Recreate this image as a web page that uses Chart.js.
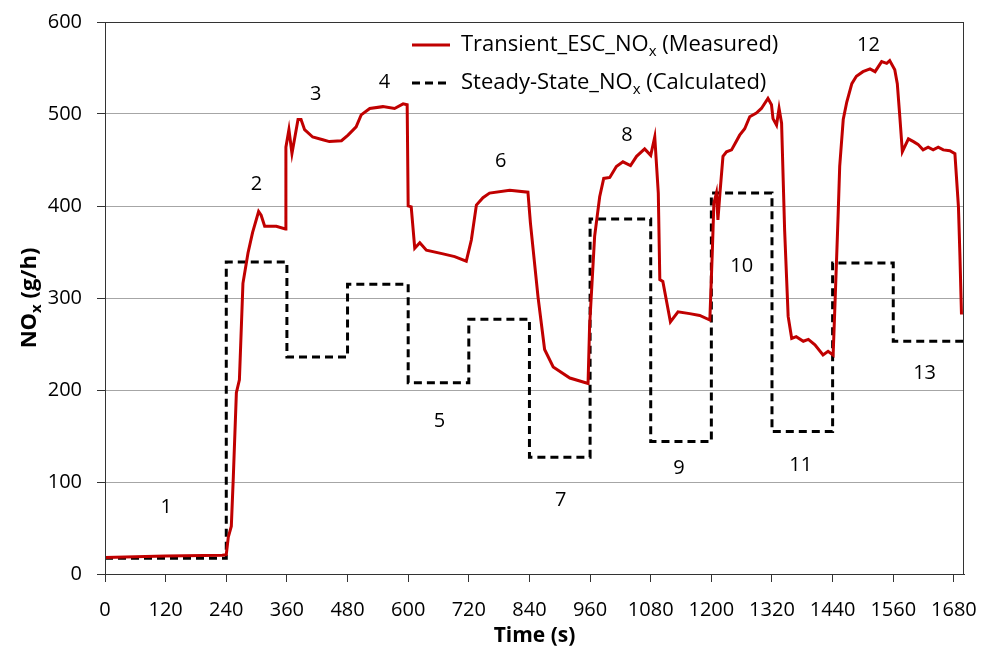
<!DOCTYPE html>
<html>
<head>
<meta charset="utf-8">
<script src="https://cdn.jsdelivr.net/npm/chart.js@4.4.0/dist/chart.umd.min.js"></script>
<style>
    html, body { margin: 0; padding: 0; background: #fff; }
</style>
</head>
<body>
<canvas id="noxChart" width="984" height="657"></canvas>
<script>
// time axis ticks (s)
const xTicks = [0, 120, 240, 360, 480, 600, 720, 840, 960, 1080, 1200, 1320, 1440, 1560, 1680];

// measured transient NOx (g/h)
const measTime = [0, 120, 232, 240, 244, 250, 254, 260, 266, 273, 283, 292, 304, 309, 316, 339, 357,
    358, 364, 370, 382, 388, 395, 411, 431, 444, 468, 481, 497, 507, 524, 550, 573, 590, 598,
    600, 606, 613, 623, 636, 669, 692, 715, 725, 735, 748, 761, 801, 837, 842, 857, 870, 887, 920, 956,
    959, 969, 979, 987, 999, 1012, 1025, 1040, 1052, 1068, 1080, 1088, 1095, 1098, 1104, 1119, 1134, 1157, 1177, 1197,
    1202, 1205, 1210, 1213, 1217, 1223, 1230, 1240, 1247, 1256, 1266, 1276, 1289, 1299, 1312, 1319, 1322, 1329, 1334, 1339,
    1345, 1352, 1359, 1368, 1382, 1392, 1405, 1421, 1431, 1441,
    1444, 1448, 1451, 1454, 1461, 1468, 1478, 1487, 1500, 1514, 1524, 1537, 1547, 1553, 1563, 1568, 1573, 1578,
    1590, 1600, 1609, 1619, 1629, 1639, 1649, 1659, 1672, 1682, 1689, 1692, 1695];
const measNOx = [18, 19.5, 20.5, 21, 40, 52, 106, 197, 211, 316, 349, 371, 394, 390, 378, 378, 375,
    464, 483, 457, 494, 494, 483, 475, 472, 470, 471, 477, 486, 499, 506, 508, 506, 511, 510,
    400, 399, 354, 360, 352, 348, 345, 340, 363, 401, 409, 414, 417, 415, 381, 301, 244, 225, 213, 207,
    269, 367, 410, 430, 431, 443, 448, 444, 454, 462, 455, 475, 414, 320, 318, 274, 285, 283, 281, 276,
    352, 403, 414, 385, 414, 454, 459, 461, 468, 477, 484, 497, 501, 506, 517, 510, 495, 488, 506, 490,
    374, 280, 256, 258, 253, 255, 249, 238, 242, 238,
    283, 345, 392, 443, 494, 513, 533, 541, 546, 549, 546, 557, 555, 558, 548, 533, 497, 459,
    473, 470, 467, 461, 464, 461, 464, 461, 460, 457, 399, 345, 282];

// calculated steady-state NOx (g/h), one value per mode start
const stepTime = [0, 240, 360, 480, 600, 720, 840, 960, 1080, 1200, 1320, 1440, 1560, 1700];
const stepNOx = [17, 339, 236, 315, 208, 277, 127, 386, 144, 414, 155, 338, 253, 253];

// mode numbers and where they sit (t, NOx)
const modeLabels = ["1", "2", "3", "4", "5", "6", "7", "8", "9", "10", "11", "12", "13"];
const modeAtTime = [121, 300, 417, 553, 662, 783, 902, 1033, 1136, 1260, 1377, 1511, 1622];
const modeAtNOx = [72, 424, 521, 535, 166, 449, 80, 477, 115, 334, 118, 575, 218];

const FONT = '"Open Sans", "Liberation Sans", sans-serif';

// draws text runs where some runs are subscripts
function drawRuns(ctx, runs, x, y, size, weight, align) {
    const big = `${weight} ${size}px ${FONT}`;
    const small = `${weight} ${Math.round(size * 0.68)}px ${FONT}`;
    let total = 0;
    runs.forEach(r => { ctx.font = r.sub ? small : big; total += ctx.measureText(r.text).width; });
    let cx = align === "center" ? x - total / 2 : x;
    ctx.textAlign = "left";
    ctx.textBaseline = "middle";
    runs.forEach(r => {
        ctx.font = r.sub ? small : big;
        ctx.fillText(r.text, cx, r.sub ? y + size * 0.3 : y);
        cx += ctx.measureText(r.text).width;
    });
}

const decor = {
    id: "decor",
    afterDraw(chart) {
        const { ctx, chartArea: a, scales: { x, y } } = chart;
        ctx.save();
        ctx.strokeStyle = "#333";
        ctx.lineWidth = 1;
        ctx.strokeRect(a.left + 0.5, a.top + 0.5, a.right - a.left - 1, a.bottom - a.top);

        ctx.fillStyle = "#000";
        // mode numbers
        ctx.font = `20px ${FONT}`;
        ctx.textAlign = "center";
        ctx.textBaseline = "middle";
        modeLabels.forEach((lab, i) => {
            ctx.fillText(lab, x.getPixelForValue(modeAtTime[i]), y.getPixelForValue(modeAtNOx[i]));
        });

        // legend
        const lx = 412, ly1 = 45, ly2 = 83;
        ctx.lineWidth = 3;
        ctx.strokeStyle = "#c00000";
        ctx.beginPath(); ctx.moveTo(lx, ly1); ctx.lineTo(lx + 38, ly1); ctx.stroke();
        ctx.strokeStyle = "#000";
        ctx.setLineDash([8, 5]);
        ctx.beginPath(); ctx.moveTo(lx, ly2); ctx.lineTo(lx + 36, ly2); ctx.stroke();
        ctx.setLineDash([]);
        drawRuns(ctx, [{ text: "Transient_ESC_NO" }, { text: "x", sub: true }, { text: " (Measured)" }], 461, ly1, 22, "normal", "left");
        drawRuns(ctx, [{ text: "Steady-State_NO" }, { text: "x", sub: true }, { text: " (Calculated)" }], 461, ly2, 22, "normal", "left");

        // axis titles
        drawRuns(ctx, [{ text: "Time (s)" }], (a.left + a.right) / 2, 636, 21, "bold", "center");
        ctx.translate(30, (a.top + a.bottom) / 2);
        ctx.rotate(-Math.PI / 2);
        drawRuns(ctx, [{ text: "NO" }, { text: "x", sub: true }, { text: " (g/h)" }], 0, 0, 22, "bold", "center");
        ctx.restore();
    }
};

// fixed axis sizes so the plot box lands where the original has it
function fitX(s) {
    s.height = 83;
    s.paddingLeft = 0;
    s.paddingRight = 0;
}
function fitY(s) {
    s.width = 105;
    s.paddingTop = 0;
    s.paddingBottom = 0;
}

const canvas = document.getElementById("noxChart");
new Chart(canvas, {
    type: "line",
    data: {
        datasets: [
            {
                label: "Transient_ESC_NOx (Measured)",
                data: measTime.map((t, i) => ({ x: t, y: measNOx[i] })),
                borderColor: "#c00000",
                borderWidth: 3,
                pointRadius: 0,
                tension: 0,
            },
            {
                label: "Steady-State_NOx (Calculated)",
                data: stepTime.map((t, i) => ({ x: t, y: stepNOx[i] })),
                borderColor: "#000",
                borderWidth: 3,
                borderDash: [8, 5],
                stepped: "before",
                pointRadius: 0,
            },
        ],
    },
    options: {
        responsive: false,
        animation: false,
        layout: { padding: { left: 0, top: 22, right: 20, bottom: 0 } },
        plugins: { legend: { display: false }, tooltip: { enabled: false } },
        scales: {
            x: {
                type: "linear",
                min: 0,
                max: 1700,
                afterBuildTicks: (s) => { s.ticks = xTicks.map(v => ({ value: v })); },
                afterFit: fitX,
                grid: { drawOnChartArea: false, tickLength: 8, tickColor: "#333" },
                border: { color: "#333", width: 1 },
                ticks: {
                    color: "#000", font: { family: FONT, size: 20 }, padding: 16, maxRotation: 0, autoSkip: false,
                    callback: (v) => String(v),
                },
            },
            y: {
                min: 0,
                max: 600,
                afterFit: fitY,
                grid: { color: "#a6a6a6", tickLength: 8, tickColor: "#333" },
                border: { color: "#333", width: 1 },
                ticks: { stepSize: 100, color: "#000", font: { family: FONT, size: 20 }, padding: 15 },
            },
        },
    },
    plugins: [decor],
});
</script>
</body>
</html>
